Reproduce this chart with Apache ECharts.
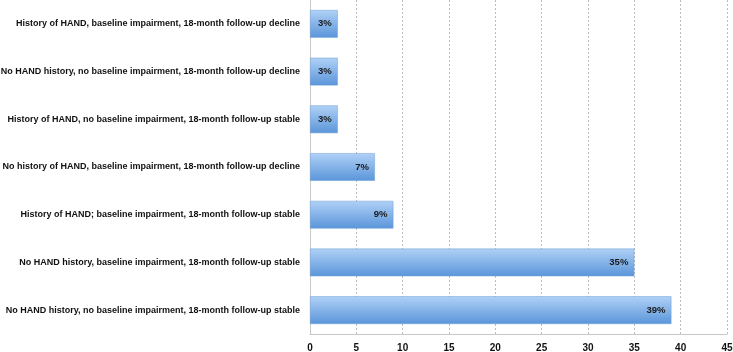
<!DOCTYPE html>
<html><head><meta charset="utf-8">
<script src="https://cdn.jsdelivr.net/npm/echarts@6/dist/echarts.min.js"></script>
<style>html,body{margin:0;padding:0;background:#fff}#c{width:733px;height:352px}</style>
</head><body><div id="c"></div>
<script>
const categories = [
  "No HAND history, no baseline impairment, 18-month follow-up stable",
  "No HAND history, baseline impairment, 18-month follow-up stable",
  "History of HAND; baseline impairment, 18-month follow-up stable",
  "No history of HAND, baseline impairment, 18-month follow-up decline",
  "History of HAND, no baseline impairment, 18-month follow-up stable",
  "No HAND history, no baseline impairment, 18-month follow-up decline",
  "History of HAND, baseline impairment, 18-month follow-up decline"
];
const values = [39, 35, 9, 7, 3, 3, 3];
const xTicks = [0, 5, 10, 15, 20, 25, 30, 35, 40, 45];

const FONT = 'Liberation Sans';
const chart = echarts.init(document.getElementById('c'));
chart.setOption({
  animation: false,
  grid: {left: 310, right: 6, top: 0, bottom: 18, containLabel: false, outerBoundsMode: 'none'},
  xAxis: {
    type: 'value', min: xTicks[0], max: xTicks[xTicks.length-1], interval: 5,
    axisLine: {show: true, lineStyle: {color: '#c8c8c8'}},
    axisTick: {show: false},
    axisLabel: {color: '#111', fontFamily: FONT, fontWeight: 'bold', fontSize: 10, margin: 9},
    splitLine: {show: true, lineStyle: {color: '#bbbbbb', type: [2, 2], width: 1}}
  },
  yAxis: {
    type: 'category', data: categories,
    axisLine: {show: true, lineStyle: {color: '#c8c8c8'}},
    axisTick: {show: false},
    axisLabel: {color: '#111', fontFamily: FONT, fontWeight: 'bold', fontSize: 9, margin: 10}
  },
  series: [{
    type: 'bar', data: values, barWidth: '58%',
    itemStyle: {
      color: new echarts.graphic.LinearGradient(0, 0, 0, 1, [
        {offset: 0, color: '#b0d1f6'},
        {offset: 1, color: '#5a95da'}
      ]),
      borderColor: '#6f9fd6', borderWidth: 0.5
    },
    label: {show: true, position: 'insideRight', formatter: '{c}%', color: '#1a1a1a',
      fontFamily: FONT, fontWeight: 'bold', fontSize: 9.5, distance: 6}
  }]
});
</script></body></html>
